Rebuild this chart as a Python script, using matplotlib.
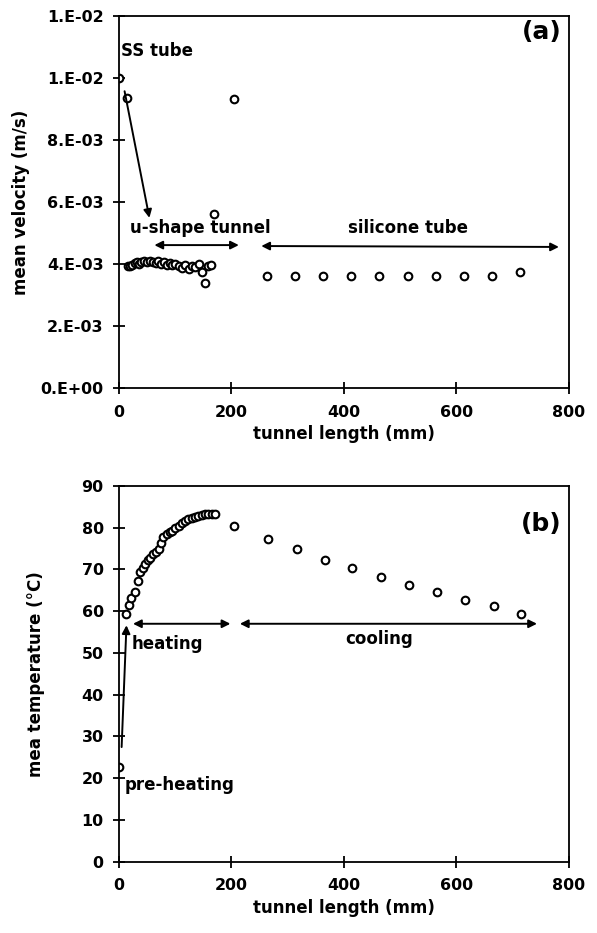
import matplotlib.pyplot as plt

plt.rcParams["font.family"] = ["DejaVu Sans"]
plt.rcParams["font.weight"] = "bold"

# (a) velocidade media ao longo do tunel
x_ss = [0, 14]
v_ss = [1.0e-2, 9.36e-3]
x_u = [16, 20, 24, 28, 32, 36, 40, 44, 50, 55, 60, 65, 70, 75, 80, 85, 90, 95,
       100, 106, 112, 118, 124, 130, 136, 142, 147, 153, 158, 163, 169, 204]
v_u = [3.95, 3.93, 3.98, 4.02, 4.05, 3.99, 4.08, 4.10, 4.06, 4.11, 4.07, 4.03,
       4.09, 4.01, 4.05, 3.98, 4.04, 3.97, 4.00, 3.93, 3.88, 3.97, 3.85, 3.95,
       3.90, 4.00, 3.75, 3.40, 3.95, 3.97, 5.60, 9.31]
v_u = [v * 1e-3 for v in v_u]
x_si = [263, 313, 363, 413, 463, 513, 563, 613, 663, 713]
v_si = [3.6e-3] * 9 + [3.75e-3]

vel_ticks = [0, 0.002, 0.004, 0.006, 0.008, 0.010, 0.012]
vel_labels = ["0.E+00", "2.E-03", "4.E-03", "6.E-03", "8.E-03", "1.E-02", "1.E-02"]

# (b) temperatura media
x_temp = [0, 12, 18, 22, 28, 34, 38, 42, 46, 52, 56, 61, 66, 71, 75, 79, 85, 90,
          94, 100, 106, 112, 117, 123, 129, 135, 141, 147, 153, 159, 165, 170,
          204, 265, 316, 367, 415, 465, 515, 565, 616, 666, 714]
t_temp = [22.8, 59.4, 61.6, 63.2, 64.7, 67.3, 69.3, 70.3, 71.2, 72.2, 72.8,
          73.6, 74.3, 75.0, 76.3, 77.9, 78.6, 79.0, 79.3, 80.0, 80.5, 81.2,
          81.7, 82.1, 82.4, 82.6, 82.9, 83.0, 83.3, 83.2, 83.4, 83.4,
          80.3, 77.3, 74.9, 72.3, 70.4, 68.3, 66.2, 64.5, 62.6, 61.2, 59.4]

fig = plt.figure(figsize=(5.97, 9.33), dpi=100)
ax1 = fig.add_axes([0.1993, 0.5841, 0.7538, 0.3988])
ax2 = fig.add_axes([0.1993, 0.0764, 0.7538, 0.4027])

mk = dict(linestyle="none", marker="o", markersize=5.5, markerfacecolor="white",
          markeredgecolor="black", markeredgewidth=1.5)
ax1.plot(x_ss + x_u + x_si, v_ss + v_u + v_si, **mk)
ax2.plot(x_temp, t_temp, **mk)

ax1.set_ylim(0, 0.012)
ax1.set_yticks(vel_ticks)
ax1.set_yticklabels(vel_labels)
ax1.set_ylabel("mean velocity (m/s)", fontsize=12, fontweight="bold")
ax1.yaxis.set_label_coords(-0.198, 0.5)
ax2.set_ylim(0, 90)
ax2.set_yticks(range(0, 91, 10))
ax2.set_ylabel("mea temperature (°C)", fontsize=12, fontweight="bold")
ax2.yaxis.set_label_coords(-0.164, 0.5)

for ax in (ax1, ax2):
    ax.set_xlim(0, 800)
    ax.set_xticks(range(0, 801, 200))
    ax.set_xlabel("tunnel length (mm)", fontsize=12, fontweight="bold", labelpad=4)
    ax.tick_params(direction="inout", length=8, width=1.3, labelsize=11.4)
    ax.tick_params(axis="x", pad=8)
    ax.tick_params(axis="y", pad=7)
    for s in ax.spines.values():
        s.set_linewidth(1.3)

arr = dict(arrowstyle="-|>", color="black", lw=1.4, mutation_scale=12)
arr2 = dict(arrowstyle="<|-|>", color="black", lw=1.4, mutation_scale=12)

# anotacoes (a)
ax1.text(4, 0.01087, "SS tube", fontsize=12, fontweight="bold", va="center")
ax1.annotate("", xy=(55, 0.00540), xytext=(9, 0.00966), arrowprops=arr)
ax1.text(144, 0.00516, "u-shape tunnel", fontsize=12, fontweight="bold",
         ha="center", va="center")
ax1.annotate("", xy=(58, 0.00461), xytext=(218, 0.00461), arrowprops=arr2)
ax1.text(514, 0.00516, "silicone tube", fontsize=12, fontweight="bold",
         ha="center", va="center")
ax1.annotate("", xy=(248, 0.00458), xytext=(787, 0.00455), arrowprops=arr2)
ax1.text(787, 0.01148, "(a)", fontsize=18, fontweight="bold", ha="right", va="center")

# anotacoes (b)
ax2.annotate("", xy=(13.5, 57.3), xytext=(4.5, 26.8), arrowprops=arr)
ax2.text(23, 52.2, "heating", fontsize=12, fontweight="bold", va="center")
ax2.annotate("", xy=(20, 57), xytext=(203, 57), arrowprops=arr2)
ax2.text(462, 53.4, "cooling", fontsize=12, fontweight="bold", ha="center", va="center")
ax2.annotate("", xy=(210, 57), xytext=(748, 57), arrowprops=arr2)
ax2.text(10.5, 18.4, "pre-heating", fontsize=12, fontweight="bold", va="center")
ax2.text(787, 80.8, "(b)", fontsize=18, fontweight="bold", ha="right", va="center")

fig.savefig("out.png", dpi=100)
